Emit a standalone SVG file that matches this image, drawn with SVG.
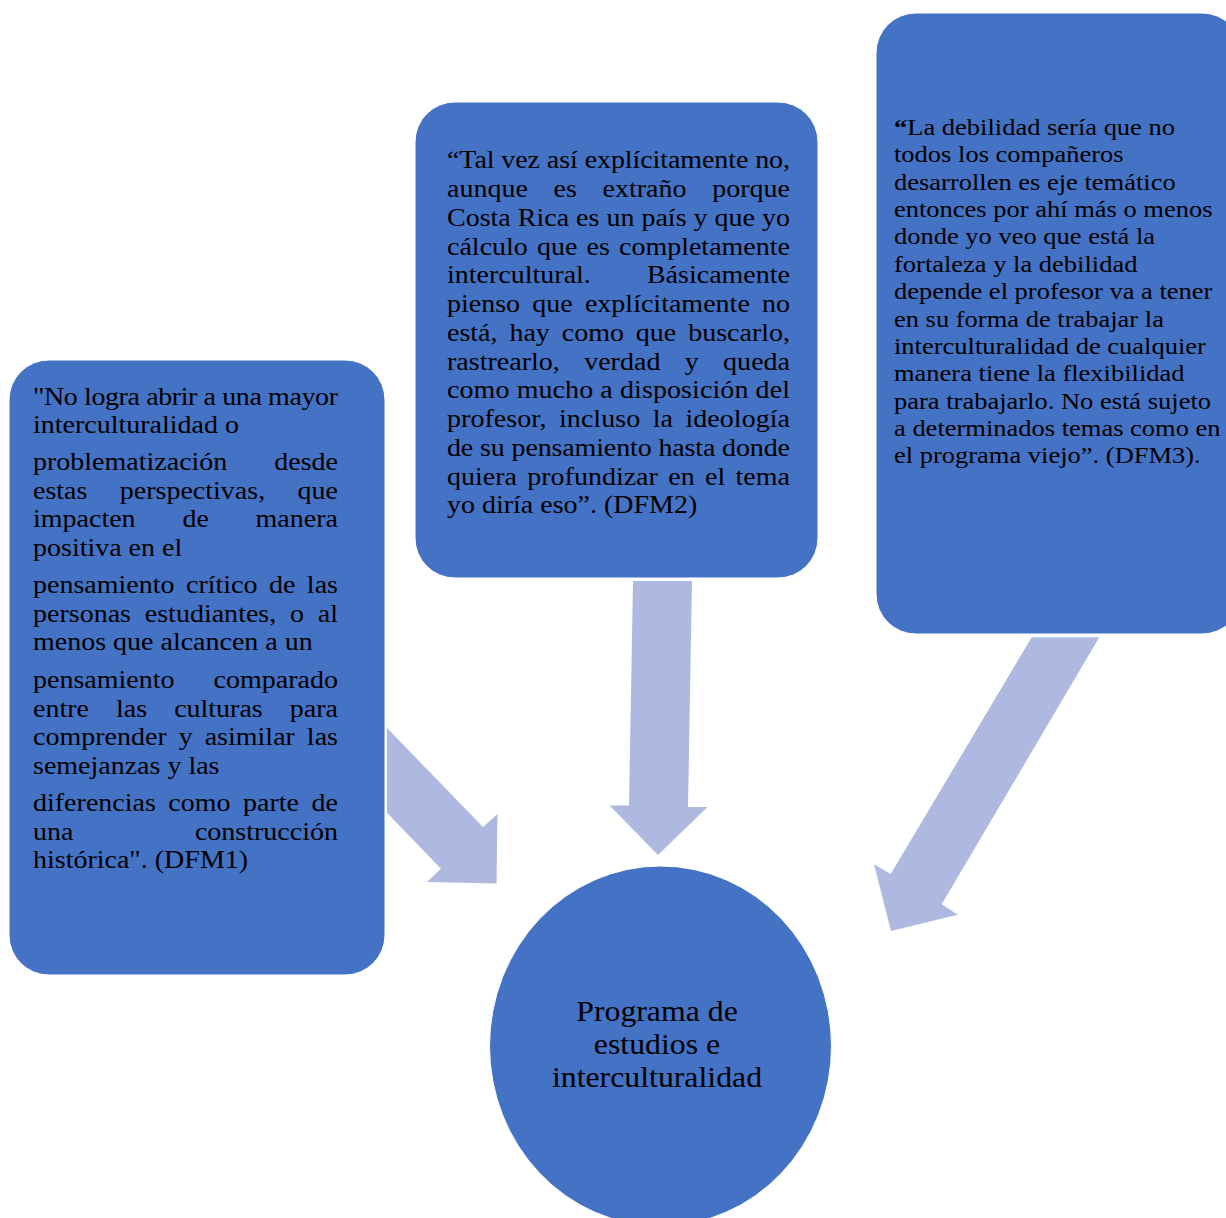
<svg xmlns="http://www.w3.org/2000/svg" width="1226" height="1218" viewBox="0 0 1226 1218">
<style>
.box{fill:#4472C4;stroke:#FFFFFF;stroke-width:1}
.arrow{fill:#ADB9E0;stroke:none}
.t{font-family:"Liberation Serif","Times New Roman",serif;fill:#000000}
.f25{font-size:25px}
.f24{font-size:23.66px}
.fc{font-size:28.4px;text-anchor:middle}
</style>
<rect width="1226" height="1218" fill="#FFFFFF"/>
<g id="connectors">
<polygon class="arrow" points="387,728 483,827 497.5,814 496.5,883.5 427,882 441,868.7 387,812.7"/>
<polygon class="arrow" points="633,581 692,581 688,807 707.5,807 658,855 609.6,805.5 629,805.5"/>
<polygon class="arrow" points="1031.7,637.3 1099.3,637.3 941.7,904.3 957.7,914.7 891,931 874,864.3 890.7,874"/>
</g>
<g id="node-dfm1">
<rect class="box" x="9" y="360" width="376" height="615" rx="40" ry="40"/>
<g class="t f25" transform="matrix(1.12 0 0 1 33 0)">
<text y="405" textLength="272.3" lengthAdjust="spacing">"No logra abrir a una mayor</text>
<text y="433.5">interculturalidad o</text>
<text y="470.5" word-spacing="35.6" textLength="272.3" lengthAdjust="spacing">problematización desde</text>
<text y="499" word-spacing="22.7" textLength="272.3" lengthAdjust="spacing">estas perspectivas, que</text>
<text y="527.5" word-spacing="35.5" textLength="272.3" lengthAdjust="spacing">impacten de manera</text>
<text y="556">positiva en el</text>
<text y="593.5" word-spacing="4" textLength="272.3" lengthAdjust="spacing">pensamiento crítico de las</text>
<text y="622" word-spacing="6" textLength="272.3" lengthAdjust="spacing">personas estudiantes, o al</text>
<text y="650.5">menos que alcancen a un</text>
<text y="688.5" word-spacing="28.6" textLength="272.3" lengthAdjust="spacing">pensamiento comparado</text>
<text y="717" word-spacing="17.9" textLength="272.3" lengthAdjust="spacing">entre las culturas para</text>
<text y="745.5" word-spacing="4.4" textLength="272.3" lengthAdjust="spacing">comprender y asimilar las</text>
<text y="774">semejanzas y las</text>
<text y="811.5" word-spacing="4.9" textLength="272.3" lengthAdjust="spacing">diferencias como parte de</text>
<text y="840" word-spacing="102.2" textLength="272.3" lengthAdjust="spacing">una construcción</text>
<text y="868.5">histórica". (DFM1)</text>
</g>
</g>
<g id="node-dfm2">
<rect class="box" x="415" y="102" width="403" height="476" rx="40" ry="40"/>
<g class="t f25" transform="matrix(1.12 0 0 1 447 0)">
<text y="168.3" textLength="306.25" lengthAdjust="spacing">“Tal vez así explícitamente no,</text>
<text y="197.05" word-spacing="16.7" textLength="306.25" lengthAdjust="spacing">aunque es extraño porque</text>
<text y="225.8" textLength="306.25" lengthAdjust="spacing">Costa Rica es un país y que yo</text>
<text y="254.55" word-spacing="1.9" textLength="306.25" lengthAdjust="spacing">cálculo que es completamente</text>
<text y="283.3" word-spacing="43.8" textLength="306.25" lengthAdjust="spacing">intercultural. Básicamente</text>
<text y="312.05" word-spacing="4.6" textLength="306.25" lengthAdjust="spacing">pienso que explícitamente no</text>
<text y="340.8" word-spacing="4.4" textLength="306.25" lengthAdjust="spacing">está, hay como que buscarlo,</text>
<text y="369.55" word-spacing="15.5" textLength="306.25" lengthAdjust="spacing">rastrearlo, verdad y queda</text>
<text y="398.3" textLength="306.25" lengthAdjust="spacing">como mucho a disposición del</text>
<text y="427.05" word-spacing="4.9" textLength="306.25" lengthAdjust="spacing">profesor, incluso la ideología</text>
<text y="455.8" textLength="306.25" lengthAdjust="spacing">de su pensamiento hasta donde</text>
<text y="484.55" word-spacing="3" textLength="306.25" lengthAdjust="spacing">quiera profundizar en el tema</text>
<text y="513.3">yo diría eso”. (DFM2)</text>
</g>
</g>
<g id="node-dfm3">
<rect class="box" x="876" y="13" width="366" height="621" rx="40" ry="40"/>
<g class="t f24" transform="matrix(1.12 0 0 1 894 0)">
<text y="135"><tspan font-weight="bold">“</tspan>La debilidad sería que no</text>
<text y="162.36">todos los compañeros</text>
<text y="189.72">desarrollen es eje temático</text>
<text y="217.08">entonces por ahí más o menos</text>
<text y="244.44">donde yo veo que está la</text>
<text y="271.8">fortaleza y la debilidad</text>
<text y="299.16">depende el profesor va a tener</text>
<text y="326.52">en su forma de trabajar la</text>
<text y="353.88">interculturalidad de cualquier</text>
<text y="381.24">manera tiene la flexibilidad</text>
<text y="408.6">para trabajarlo. No está sujeto</text>
<text y="435.96">a determinados temas como en</text>
<text y="463.32">el programa viejo”. (DFM3).</text>
</g>
</g>
<g id="node-center">
<ellipse class="box" cx="660.5" cy="1046" rx="171" ry="180"/>
<g class="t fc" transform="matrix(1.12 0 0 1 657 0)">
<text x="0" y="1021">Programa de</text>
<text x="0" y="1054">estudios e</text>
<text x="0" y="1087">interculturalidad</text>
</g>
</g>
</svg>
